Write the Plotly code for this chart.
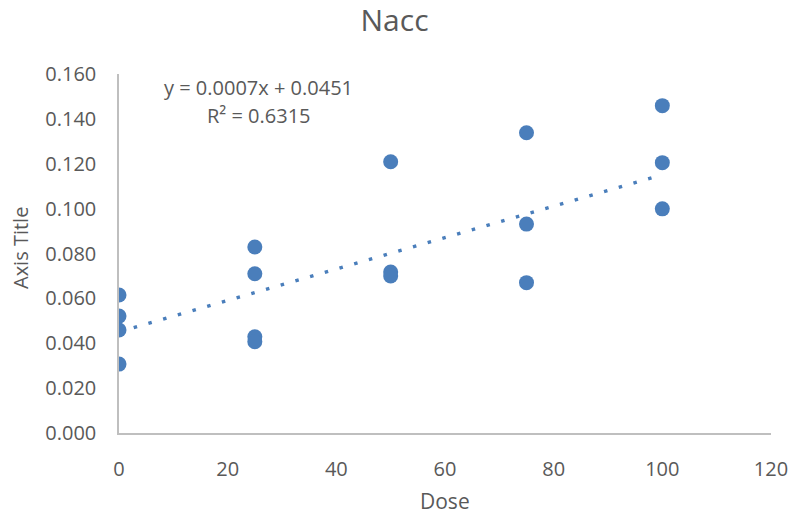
import plotly.graph_objects as go

# Nacc measurements by dose
dose = [0, 0, 0, 0,
        25, 25, 25, 25,
        50, 50, 50,
        75, 75, 75,
        100, 100, 100]
nacc = [0.0615, 0.0521, 0.0459, 0.0307,
        0.0829, 0.0710, 0.0429, 0.0407,
        0.1209, 0.0717, 0.0700,
        0.1338, 0.0931, 0.0670,
        0.1459, 0.1205, 0.0999]

# Linear trendline coefficients (as reported on the chart)
slope = 0.0007
intercept = 0.0451
r_squared = 0.6315

x_ticks = [0, 20, 40, 60, 80, 100, 120]
y_ticks = [0.000, 0.020, 0.040, 0.060, 0.080, 0.100, 0.120, 0.140, 0.160]

blue = "#4A7EBB"
grey_text = "#595959"
axis_grey = "#BFBFBF"
font_family = "Open Sans"

W, H = 789, 517
M_L, M_R, M_T, M_B = 119, 18, 74, 84

trend_x = [min(dose), max(dose)]
trend_y = [slope * v + intercept for v in trend_x]

fig = go.Figure()
fig.add_trace(go.Scatter(
    x=trend_x, y=trend_y, mode="lines",
    line=dict(color=blue, width=3.5, dash="3.5px,11.8px"),
    hoverinfo="skip", showlegend=False,
))
fig.add_trace(go.Scatter(
    x=dose, y=nacc, mode="markers",
    marker=dict(color=blue, size=15, line=dict(width=0)),
    showlegend=False,
))

label_font = dict(family=font_family, size=20, color=grey_text)
title_font = dict(family=font_family, size=21, color=grey_text)

# Trendline equation and R²
fig.add_annotation(
    x=25.6, y=0.1542, xref="x", yref="y",
    text=f"y = {slope:.4f}x + {intercept:.4f}",
    showarrow=False, font=label_font,
)
fig.add_annotation(
    x=25.8, y=0.1417, xref="x", yref="y",
    text=f"R² = {r_squared:.4f}",
    showarrow=False, font=label_font,
)

# Axis titles
plot_w = W - M_L - M_R
plot_h = H - M_T - M_B
fig.add_annotation(
    x=(445 - M_L) / plot_w, y=-(501 - (H - M_B)) / plot_h,
    xref="paper", yref="paper", text="Dose", showarrow=False,
    xanchor="center", yanchor="middle", font=title_font,
)
fig.add_annotation(
    x=-(M_L - 20) / plot_w, y=((H - M_B) - 248) / plot_h,
    xref="paper", yref="paper", text="Axis Title", showarrow=False,
    textangle=-90, xanchor="center", yanchor="middle", font=label_font,
)

fig.update_layout(
    width=W, height=H,
    margin=dict(l=M_L, r=M_R, t=M_T, b=M_B, autoexpand=False),
    paper_bgcolor="white", plot_bgcolor="white",
    font=dict(family=font_family, size=20, color=grey_text),
    title=dict(text="Nacc", x=0.5, xref="container", xanchor="center",
               y=1 - 20 / H, yref="container", yanchor="middle",
               font=dict(family=font_family, size=30, color=grey_text)),
    xaxis=dict(
        range=[0, 120], tickvals=x_ticks, ticktext=[str(v) for v in x_ticks],
        showgrid=False, zeroline=False, showline=True, linecolor=axis_grey,
        linewidth=1.5, ticks="", ticklabelstandoff=17, automargin=False,
        tickfont=dict(family=font_family, size=20, color=grey_text),
    ),
    yaxis=dict(
        range=[0, 0.16], tickvals=y_ticks, ticktext=[f"{v:.3f}" for v in y_ticks],
        showgrid=False, zeroline=False, showline=True, linecolor=axis_grey,
        linewidth=1.5, ticks="", ticklabelstandoff=17, automargin=False,
        tickfont=dict(family=font_family, size=20, color=grey_text),
    ),
)

fig.write_html("out.html")
